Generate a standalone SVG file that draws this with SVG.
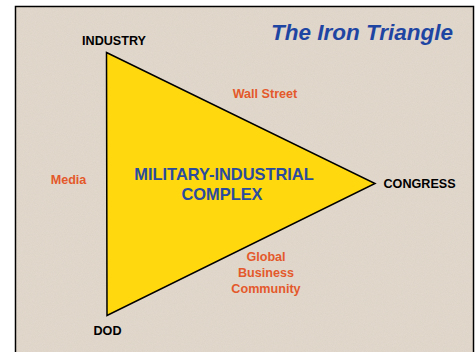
<svg xmlns="http://www.w3.org/2000/svg" width="475" height="352" viewBox="0 0 475 352">
  <style>
    .lbl { font-family: "Liberation Sans", Arial, sans-serif; font-weight: bold; font-size: 12.6px; }
    .node { fill: #000000; }
    .infl { fill: #e4592b; }
    .core { fill: #2b4c9e; font-size: 16.4px; }
    .title { font-family: "Liberation Sans", Arial, sans-serif; font-weight: bold; font-style: italic; font-size: 22.5px; fill: #1f45a3; }
  </style>
  <defs>
    <filter id="grain" x="0" y="0" width="100%" height="100%">
      <feTurbulence type="fractalNoise" baseFrequency="0.9" numOctaves="2" seed="3" result="n"/>
      <feColorMatrix in="n" type="matrix" values="0 0 0 0 0.55  0 0 0 0 0.5  0 0 0 0 0.45  0 0 0 0.35 -0.05"/>
    </filter>
  </defs>
  <rect x="0" y="0" width="475" height="352" fill="#ffffff"/>
  <g id="panel">
    <rect x="15.5" y="6.5" width="458" height="350" fill="#e2d8cc" stroke="#000000" stroke-width="1.5"/>
    <rect x="16" y="7" width="457" height="345" filter="url(#grain)" opacity="0.6"/>
  </g>
  <text class="title" x="362" y="40" text-anchor="middle">The Iron Triangle</text>
  <g id="connectors"></g>
  <g id="mic">
    <polygon points="106.5,52.5 375,183.5 107,315.5" fill="#ffd80e" stroke="#000000" stroke-width="1.5" stroke-linejoin="miter"/>
    <text class="lbl core" x="224" y="179.5" text-anchor="middle">MILITARY-INDUSTRIAL</text>
    <text class="lbl core" x="222" y="199.5" text-anchor="middle">COMPLEX</text>
  </g>
  <g id="industry"><text class="lbl node" x="114" y="44.5" text-anchor="middle">INDUSTRY</text></g>
  <g id="dod"><text class="lbl node" x="107.5" y="335" text-anchor="middle">DOD</text></g>
  <g id="congress"><text class="lbl node" x="383.5" y="187.7">CONGRESS</text></g>
  <g id="wallstreet"><text class="lbl infl" x="265" y="98.3" text-anchor="middle">Wall Street</text></g>
  <g id="media"><text class="lbl infl" x="68.5" y="183.5" text-anchor="middle">Media</text></g>
  <g id="global">
    <text class="lbl infl" x="266" y="260.7" text-anchor="middle">Global</text>
    <text class="lbl infl" x="266" y="276.7" text-anchor="middle">Business</text>
    <text class="lbl infl" x="266" y="292.7" text-anchor="middle">Community</text>
  </g>
</svg>
